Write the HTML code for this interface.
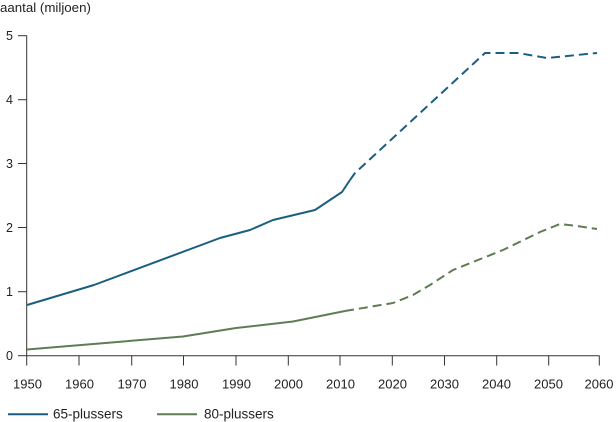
<!DOCTYPE html>
<html>
<head>
<meta charset="utf-8">
<style>
html,body{margin:0;padding:0;background:#fff;}
svg{display:block;}
text{font-family:"Liberation Sans",sans-serif;fill:#222;}
</style>
</head>
<body>
<svg width="616" height="422" viewBox="0 0 616 422" xmlns="http://www.w3.org/2000/svg">
<text x="0" y="12" font-size="13.3">aantal (miljoen)</text>
<g stroke="#333" stroke-width="1" fill="none">
<line x1="26.7" y1="35.5" x2="26.7" y2="365.5"/>
<line x1="26.7" y1="355.7" x2="599.5" y2="355.7"/>
<line x1="18" y1="35.7" x2="26.7" y2="35.7"/>
<line x1="18" y1="99.7" x2="26.7" y2="99.7"/>
<line x1="18" y1="163.5" x2="26.7" y2="163.5"/>
<line x1="18" y1="227.5" x2="26.7" y2="227.5"/>
<line x1="18" y1="291.7" x2="26.7" y2="291.7"/>
<line x1="18" y1="355.7" x2="26.7" y2="355.7"/>
<line x1="79" y1="355.7" x2="79" y2="365.5"/>
<line x1="131.7" y1="355.7" x2="131.7" y2="365.5"/>
<line x1="183.5" y1="355.7" x2="183.5" y2="365.5"/>
<line x1="236" y1="355.7" x2="236" y2="365.5"/>
<line x1="288.3" y1="355.7" x2="288.3" y2="365.5"/>
<line x1="340" y1="355.7" x2="340" y2="365.5"/>
<line x1="392.3" y1="355.7" x2="392.3" y2="365.5"/>
<line x1="444.5" y1="355.7" x2="444.5" y2="365.5"/>
<line x1="496.7" y1="355.7" x2="496.7" y2="365.5"/>
<line x1="548.7" y1="355.7" x2="548.7" y2="365.5"/>
<line x1="599.3" y1="355.7" x2="599.3" y2="365.5"/>
</g>
<g font-size="12.5" text-anchor="end">
<text x="13" y="40">5</text>
<text x="13" y="104">4</text>
<text x="13" y="168">3</text>
<text x="13" y="232">2</text>
<text x="13" y="296">1</text>
<text x="13" y="360">0</text>
</g>
<g font-size="13" text-anchor="middle">
<text x="27.5" y="388.5">1950</text>
<text x="79.5" y="388.5">1960</text>
<text x="132" y="388.5">1970</text>
<text x="184" y="388.5">1980</text>
<text x="236.5" y="388.5">1990</text>
<text x="288.5" y="388.5">2000</text>
<text x="340.5" y="388.5">2010</text>
<text x="392.5" y="388.5">2020</text>
<text x="444.5" y="388.5">2030</text>
<text x="496.5" y="388.5">2040</text>
<text x="548.5" y="388.5">2050</text>
<text x="599" y="388.5">2060</text>
</g>
<g fill="none" stroke-width="2" stroke-linejoin="round">
<path d="M27,305 L94,285 L220,238 L250,230 L273,220 L315,210 L342,192 L350,180" stroke="#1b5f80"/>
<path d="M350,180 L355,173 L485,53 L518,53 L547,58 L597,53" stroke="#1b5f80" stroke-dasharray="9,5"/>
<path d="M27,349.5 L183,336.5 L236,328 L293,321.5 L345,311" stroke="#5f7d53"/>
<path d="M345,311 L393,303 L413,295 L430,285 L453,270 L503,250 L540,232 L560,224 L577,226 L597,229" stroke="#5f7d53" stroke-dasharray="9,5"/>
</g>
<line x1="8" y1="414.3" x2="48" y2="414.3" stroke="#1b5f80" stroke-width="2"/>
<text x="53" y="418.5" font-size="13.5">65-plussers</text>
<line x1="157" y1="414.3" x2="197" y2="414.3" stroke="#5f7d53" stroke-width="2"/>
<text x="204" y="418.5" font-size="13.5">80-plussers</text>
</svg>
</body>
</html>
